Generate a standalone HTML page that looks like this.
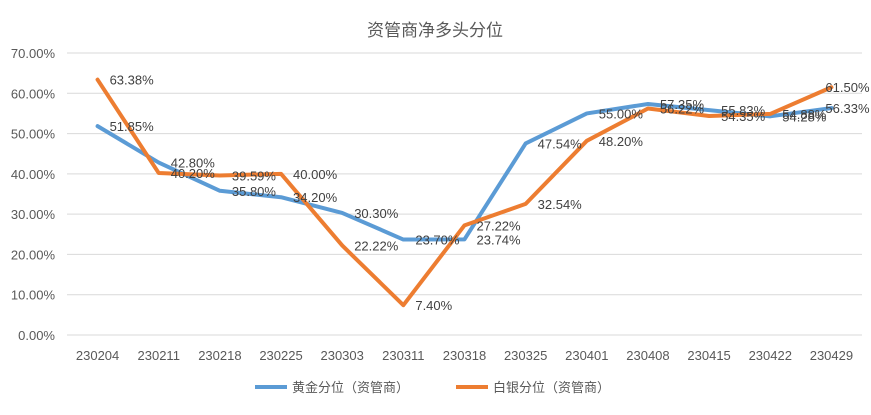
<!DOCTYPE html>
<html><head><meta charset="utf-8"><style>
body{margin:0;background:#fff;font-family:"Liberation Sans","Noto Sans CJK SC",sans-serif;}
svg text{font-family:"Liberation Sans","Noto Sans CJK SC",sans-serif;}
</style></head><body>
<svg id="c" width="871" height="410">
<text x="435" y="36" text-anchor="middle" font-size="17" fill="#595959">资管商净多头分位</text>
<g id="grid"></g><g id="series"></g><g id="labels"></g>
<g>
<line x1="255" y1="387" x2="287" y2="387" stroke="#5B9BD5" stroke-width="4"/>
<text x="292" y="392" font-size="13" fill="#595959">黄金分位（资管商）</text>
<line x1="456" y1="387" x2="488" y2="387" stroke="#ED7D31" stroke-width="4"/>
<text x="493" y="392" font-size="13" fill="#595959">白银分位（资管商）</text>
</g>
</svg>
<script>
const categories=["230204","230211","230218","230225","230303","230311","230318","230325","230401","230408","230415","230422","230429"];
const gold=[51.85,42.80,35.80,34.20,30.30,23.70,23.74,47.54,55.00,57.35,55.83,54.28,56.33];
const silver=[63.38,40.20,39.59,40.00,22.22,7.40,27.22,32.54,48.20,56.22,54.35,54.88,61.50];
const yTicks=[0,10,20,30,40,50,60,70];
const NS="http://www.w3.org/2000/svg";
const x0=67,x1=862,yTop=53,yBot=335;
const step=(x1-x0)/categories.length;
const X=i=>x0+step*(i+0.5);
const Y=v=>yBot-(v/70)*(yBot-yTop);
function mk(t,a,p){const e=document.createElementNS(NS,t);for(const k in a)e.setAttribute(k,a[k]);p.appendChild(e);return e;}
const g=document.getElementById('grid');
yTicks.forEach(v=>{
 const l=mk('line',{x1:x0,x2:x1,y1:Y(v),y2:Y(v),stroke:'#d9d9d9','stroke-width':1},g);
 
 
 const t=mk('text',{x:55,y:Y(v)+5,'text-anchor':'end','font-size':13,fill:'#595959'},g);
 t.textContent=v.toFixed(2)+'%';
 
 
});
categories.forEach((c,i)=>{
 const t=mk('text',{x:X(i),y:360,'text-anchor':'middle','font-size':13,fill:'#595959'},g);
 t.textContent=c;
 
 
});
const s=document.getElementById('series'),lb=document.getElementById('labels');
[[gold,'#5B9BD5','gold'],[silver,'#ED7D31','silver']].forEach(([d,col,n])=>{
 const p=mk('polyline',{points:d.map((v,i)=>X(i)+','+Y(v)).join(' '),fill:'none',stroke:col,'stroke-width':4,'stroke-linejoin':'round','stroke-linecap':'round'},s);
 
 
 d.forEach((v,i)=>{
  const dx=(i===d.length-1)?-6:12;
  const t=mk('text',{x:X(i)+dx,y:Y(v)+5,'font-size':13,fill:'#404040'},lb);
  t.textContent=v.toFixed(2)+'%';
  
  
 });
});
</script>
</body></html>
